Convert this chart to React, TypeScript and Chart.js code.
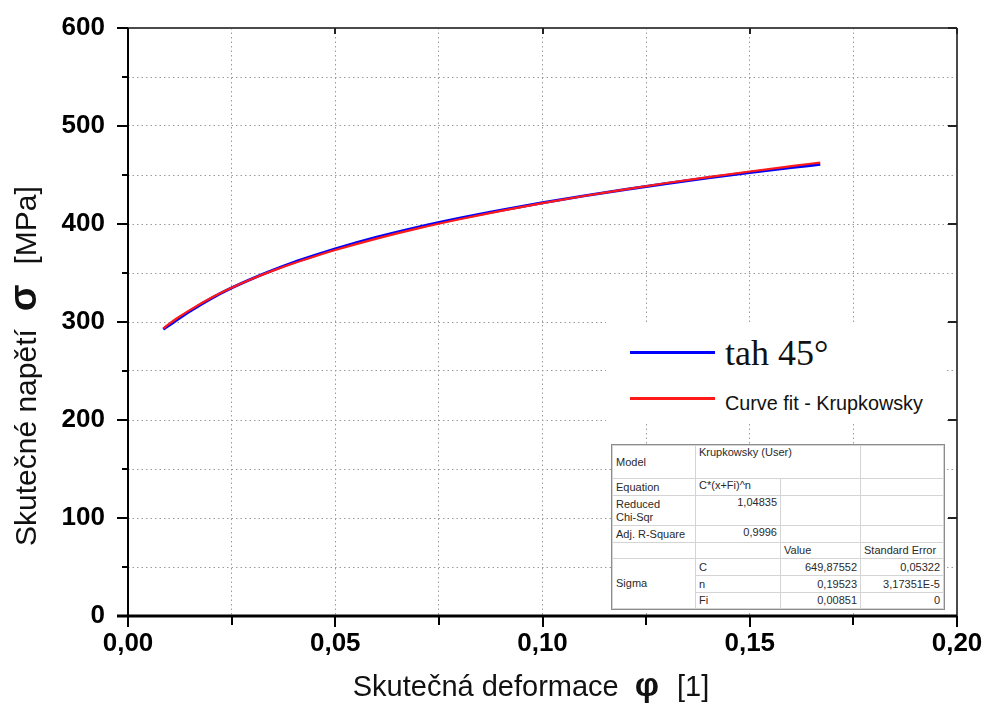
import React, { useEffect, useRef } from 'react';
import { Chart, registerables } from 'chart.js';

Chart.register(...registerables);

// ---- data ----
const measuredStrain = [0.0085, 0.010, 0.012, 0.015, 0.020, 0.025, 0.030, 0.035, 0.040, 0.045, 0.050, 0.060, 0.070, 0.080, 0.090, 0.100, 0.110, 0.120, 0.130, 0.140, 0.150, 0.160, 0.167];
const measuredStress = [292.6, 296.9, 302.8, 311.2, 323.9, 334.8, 344.3, 352.9, 360.8, 367.9, 374.6, 386.5, 396.8, 405.9, 414.1, 421.7, 428.7, 435.2, 441.3, 447.1, 452.5, 457.6, 460.9];
const fitStrain = [0.0085, 0.010, 0.012, 0.015, 0.020, 0.025, 0.030, 0.035, 0.040, 0.045, 0.050, 0.060, 0.070, 0.080, 0.090, 0.100, 0.110, 0.120, 0.130, 0.140, 0.150, 0.160, 0.167];
const fitStress = [293.4, 298.3, 304.3, 312.4, 324.5, 334.9, 344.1, 352.4, 360.0, 366.9, 373.4, 385.1, 395.5, 404.8, 413.4, 421.3, 428.6, 435.4, 441.8, 447.9, 453.6, 459.0, 462.7];

const xGridValues = [0, 0.025, 0.05, 0.075, 0.1, 0.125, 0.15, 0.175, 0.2];
const xMajorValues = [0, 0.05, 0.1, 0.15, 0.2];
const xTickLabels = ['0,00', '0,05', '0,10', '0,15', '0,20'];
const yGridValues = [0, 50, 100, 150, 200, 250, 300, 350, 400, 450, 500, 550, 600];
const yMajorValues = [0, 100, 200, 300, 400, 500, 600];
const yTickLabels = ['0', '100', '200', '300', '400', '500', '600'];

const seriesMeasuredLabel = 'tah 45°';
const seriesFitLabel = 'Curve fit - Krupkowsky';
const xTitleParts = ['Skutečná deformace', 'φ', '[1]'];
const yTitleParts = ['Skutečné napětí', 'σ', '[MPa]'];

const tableModel = 'Krupkowsky (User)';
const tableEquation = 'C*(x+Fi)^n';
const tableChiSqr = '1,04835';
const tableRSquare = '0,9996';
const paramNames = ['C', 'n', 'Fi'];
const paramValues = ['649,87552', '0,19523', '0,00851'];
const paramErrors = ['0,05322', '3,17351E-5', '0'];

const SANS = 'Arial, "Liberation Sans", sans-serif';
const SERIF = '"Times New Roman", "Liberation Serif", serif';

const near = (a: number, b: number) => Math.abs(a - b) < 1e-9;

const framePlugin = {
  id: 'frame',
  afterDraw(chart: any) {
    const { ctx, chartArea } = chart;
    const { left, right, top, bottom } = chartArea;
    const xs = chart.scales.x;
    const ys = chart.scales.y;
    const line = (x1: number, y1: number, x2: number, y2: number) => {
      ctx.beginPath();
      ctx.moveTo(x1, y1);
      ctx.lineTo(x2, y2);
      ctx.stroke();
    };
    ctx.save();
    // top / right frame
    ctx.strokeStyle = '#4a4a4a';
    ctx.lineWidth = 2;
    line(left - 11, top, right, top);
    line(right, top, right, bottom + 11);
    ctx.strokeStyle = '#222';
    xGridValues.forEach((v) => {
      const px = Math.round(xs.getPixelForValue(v));
      const major = xMajorValues.some((m) => near(m, v));
      if (major) line(px, top, px, top + 6);
    });
    yGridValues.forEach((v) => {
      const py = Math.round(ys.getPixelForValue(v));
      const major = yMajorValues.some((m) => near(m, v));
      if (major) line(right - 9, py, right, py);
    });
    // left axis
    ctx.strokeStyle = '#000';
    ctx.lineWidth = 2;
    line(left, top, left, bottom + 11);
    yGridValues.forEach((v) => {
      const py = Math.round(ys.getPixelForValue(v));
      const major = yMajorValues.some((m) => near(m, v));
      line(left - (major ? 11 : 6), py, left, py);
    });
    // bottom axis
    ctx.lineWidth = 3;
    line(left - 11, bottom, right, bottom);
    ctx.lineWidth = 2;
    xGridValues.forEach((v) => {
      const px = Math.round(xs.getPixelForValue(v));
      const major = xMajorValues.some((m) => near(m, v));
      line(px, bottom, px, bottom + (major ? 11 : 9));
    });

    // axis titles with mixed fonts
    ctx.fillStyle = '#111';
    ctx.textBaseline = 'alphabetic';
    ctx.textAlign = 'left';
    const drawSegs = (segs: any[], start: number) => {
      let x = start;
      segs.forEach((s) => {
        ctx.font = s.f;
        x += s.gap;
        ctx.fillText(s.t, x, 0);
        x += ctx.measureText(s.t).width;
      });
    };
    const widthOf = (segs: any[]) => {
      let total = 0;
      segs.forEach((s) => {
        ctx.font = s.f;
        total += s.gap + ctx.measureText(s.t).width;
      });
      return total;
    };
    const segsX = [
      { t: xTitleParts[0], f: `29px ${SANS}`, gap: 0 },
      { t: xTitleParts[1], f: `bold 34px ${SANS}`, gap: 16 },
      { t: xTitleParts[2], f: `29px ${SANS}`, gap: 18 },
    ];
    ctx.save();
    ctx.translate(0, 696);
    drawSegs(segsX, 531 - widthOf(segsX) / 2);
    ctx.restore();

    const segsY = [
      { t: yTitleParts[0], f: `30px ${SANS}`, gap: 0 },
      { t: yTitleParts[1], f: `bold 39px ${SANS}`, gap: 18 },
      { t: yTitleParts[2], f: `30px ${SANS}`, gap: 20 },
    ];
    ctx.save();
    ctx.translate(36, 0);
    ctx.rotate(-Math.PI / 2);
    drawSegs(segsY, -546);
    ctx.restore();

    ctx.restore();
  },
};

const cellBase: React.CSSProperties = {
  border: '1px solid #d4d4d4',
  padding: '0 3px',
  fontFamily: SANS,
  fontSize: 11,
  color: '#2a2a2a',
  lineHeight: '13px',
  whiteSpace: 'nowrap',
  overflow: 'hidden',
};

const zeroPadding = (scale: any) => {
  scale.paddingTop = 0;
  scale.paddingBottom = 0;
  scale.paddingLeft = 0;
  scale.paddingRight = 0;
};

export default function App() {
  const canvasRef = useRef<HTMLCanvasElement | null>(null);

  useEffect(() => {
    const canvas = canvasRef.current;
    if (!canvas) return;
    const chart = new Chart(canvas, {
      type: 'scatter',
      data: {
        datasets: [
          {
            label: seriesFitLabel,
            data: fitStrain.map((x, i) => ({ x, y: fitStress[i] })),
            showLine: true,
            borderColor: '#ff1a1a',
            borderWidth: 2.2,
            pointRadius: 0,
            cubicInterpolationMode: 'monotone',
            order: 0,
          },
          {
            label: seriesMeasuredLabel,
            data: measuredStrain.map((x, i) => ({ x, y: measuredStress[i] })),
            showLine: true,
            borderColor: '#0000ff',
            borderWidth: 3,
            pointRadius: 0,
            cubicInterpolationMode: 'monotone',
            order: 1,
          },
        ],
      } as any,
      options: {
        animation: false,
        responsive: false,
        maintainAspectRatio: false,
        layout: { padding: { top: 28, right: 26, left: 0, bottom: 0 } },
        plugins: { legend: { display: false }, tooltip: { enabled: false } },
        scales: {
          x: {
            type: 'linear',
            min: 0,
            max: 0.2,
            afterBuildTicks: (scale: any) => {
              scale.ticks = xGridValues.map((v) => ({ value: v }));
            },
            afterFit: (scale: any) => {
              scale.height = 92;
              zeroPadding(scale);
            },
            ticks: {
              autoSkip: false,
              maxRotation: 0,
              padding: 12,
              color: '#000',
              font: { family: SANS, size: 26, weight: 'bold' },
              callback: (value: any) => {
                const i = xMajorValues.findIndex((m) => near(m, Number(value)));
                return i >= 0 ? xTickLabels[i] : '';
              },
            },
            grid: {
              drawTicks: false,
              lineWidth: 1,
              color: (c: any) => {
                const v = c.tick ? c.tick.value : 0;
                return near(v, 0) || near(v, 0.2) ? 'rgba(0,0,0,0)' : '#9a9a9a';
              },
            },
            border: { display: false, dash: [1.5, 3] },
          },
          y: {
            type: 'linear',
            min: 0,
            max: 600,
            afterBuildTicks: (scale: any) => {
              scale.ticks = yGridValues.map((v) => ({ value: v }));
            },
            afterFit: (scale: any) => {
              scale.width = 128;
              zeroPadding(scale);
            },
            ticks: {
              autoSkip: false,
              padding: 23,
              color: '#000',
              font: { family: SANS, size: 26, weight: 'bold' },
              callback: (value: any) => {
                const i = yMajorValues.findIndex((m) => near(m, Number(value)));
                return i >= 0 ? yTickLabels[i] : '';
              },
            },
            grid: {
              drawTicks: false,
              lineWidth: 1,
              color: (c: any) => {
                const v = c.tick ? c.tick.value : 0;
                return near(v, 0) || near(v, 600) ? 'rgba(0,0,0,0)' : '#9a9a9a';
              },
            },
            border: { display: false, dash: [1.5, 3] },
          },
        },
      } as any,
      plugins: [framePlugin],
    });
    return () => chart.destroy();
  }, []);

  const colW = [83, 85, 80, 83];
  const rowH = [33, 17, 30, 17, 16, 17, 17, 16];

  return (
    <div style={{ position: 'fixed', left: 0, top: 0, width: 983, height: 708, background: '#fff', overflow: 'hidden' }}>
      <canvas ref={canvasRef} width={983} height={708} style={{ position: 'absolute', left: 0, top: 0, width: 983, height: 708 }} />
      {/* legend */}
      <div style={{ position: 'absolute', left: 606, top: 322, width: 340, height: 100, background: '#fff' }} />
      <div style={{ position: 'absolute', left: 630, top: 351, width: 85, height: 3, background: '#0000ff' }} />
      <div style={{ position: 'absolute', left: 725, top: 335, fontFamily: SERIF, fontSize: 36, lineHeight: '36px', color: '#111', whiteSpace: 'nowrap' }}>
        {seriesMeasuredLabel}
      </div>
      <div style={{ position: 'absolute', left: 630, top: 397, width: 85, height: 2.5, background: '#ff1a1a' }} />
      <div style={{ position: 'absolute', left: 725, top: 393, fontFamily: SANS, fontSize: 19.8, lineHeight: '20px', color: '#111', whiteSpace: 'nowrap' }}>
        {seriesFitLabel}
      </div>
      {/* fit table */}
      <table
        style={{
          position: 'absolute',
          left: 612,
          top: 445,
          borderCollapse: 'collapse',
          tableLayout: 'fixed',
          width: colW.reduce((a, b) => a + b, 0),
          background: '#fff',
          outline: '1px solid #8c8c8c',
        }}
      >
        <colgroup>
          {colW.map((w, i) => (
            <col key={i} style={{ width: w }} />
          ))}
        </colgroup>
        <tbody>
          <tr style={{ height: rowH[0] }}>
            <td style={{ ...cellBase, verticalAlign: 'middle' }}>Model</td>
            <td colSpan={2} style={{ ...cellBase, verticalAlign: 'top' }}>{tableModel}</td>
            <td style={cellBase}></td>
          </tr>
          <tr style={{ height: rowH[1] }}>
            <td style={{ ...cellBase, verticalAlign: 'middle' }}>Equation</td>
            <td style={{ ...cellBase, verticalAlign: 'top' }}>{tableEquation}</td>
            <td style={cellBase}></td>
            <td style={cellBase}></td>
          </tr>
          <tr style={{ height: rowH[2] }}>
            <td style={{ ...cellBase, verticalAlign: 'middle' }}>
              Reduced
              <br />
              Chi-Sqr
            </td>
            <td style={{ ...cellBase, verticalAlign: 'top', textAlign: 'right' }}>{tableChiSqr}</td>
            <td style={cellBase}></td>
            <td style={cellBase}></td>
          </tr>
          <tr style={{ height: rowH[3] }}>
            <td style={{ ...cellBase, verticalAlign: 'middle' }}>Adj. R-Square</td>
            <td style={{ ...cellBase, verticalAlign: 'top', textAlign: 'right' }}>{tableRSquare}</td>
            <td style={cellBase}></td>
            <td style={cellBase}></td>
          </tr>
          <tr style={{ height: rowH[4] }}>
            <td style={cellBase}></td>
            <td style={cellBase}></td>
            <td style={{ ...cellBase, verticalAlign: 'middle' }}>Value</td>
            <td style={{ ...cellBase, verticalAlign: 'middle' }}>Standard Error</td>
          </tr>
          {paramNames.map((p, i) => (
            <tr key={p} style={{ height: rowH[5 + i] }}>
              {i === 0 && (
                <td rowSpan={3} style={{ ...cellBase, verticalAlign: 'middle' }}>
                  Sigma
                </td>
              )}
              <td style={{ ...cellBase, verticalAlign: 'middle' }}>{p}</td>
              <td style={{ ...cellBase, verticalAlign: 'middle', textAlign: 'right' }}>{paramValues[i]}</td>
              <td style={{ ...cellBase, verticalAlign: 'middle', textAlign: 'right' }}>{paramErrors[i]}</td>
            </tr>
          ))}
        </tbody>
      </table>
    </div>
  );
}
